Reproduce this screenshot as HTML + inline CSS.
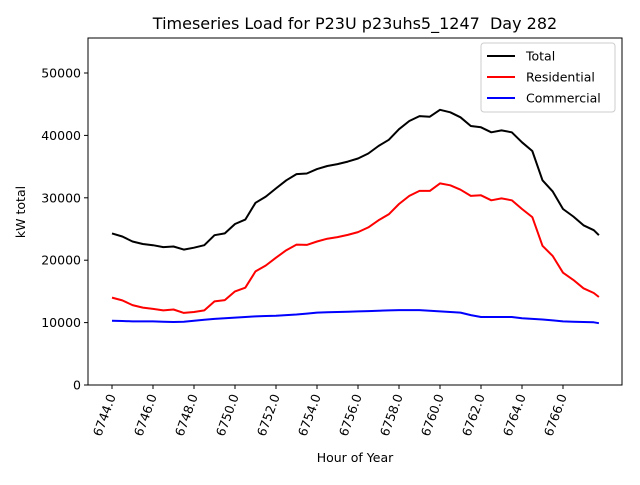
<!DOCTYPE html>
<html><head><meta charset="utf-8"><style>
body{margin:0;background:#fff;font-family:"Liberation Sans","DejaVu Sans",sans-serif}
svg text{font-family:"DejaVu Sans","Liberation Sans",sans-serif}
</style></head><body>
<svg id="chart" width="640" height="480" xmlns="http://www.w3.org/2000/svg"></svg>
<script>
const startHour = 6744;
const stepHours = 0.5;
const totalLoad = [24300,23800,23000,22600,22400,22100,22200,21700,22000,22400,24000,24300,25800,26500,29200,30200,31500,32800,33800,33900,34600,35100,35400,35800,36300,37100,38300,39300,41000,42300,43100,43000,44100,43700,42900,41500,41300,40500,40800,40500,38900,37500,32800,31000,28200,27000,25600,24800,24000];
const residentialLoad = [14000,13550,12800,12400,12200,11950,12100,11550,11700,11950,13400,13600,15000,15600,18200,19150,20400,21600,22500,22450,23000,23450,23700,24050,24500,25250,26400,27350,29000,30300,31100,31100,32300,32000,31300,30300,30400,29600,29900,29600,28200,26900,22300,20650,18000,16850,15500,14750,14100];
const commercialLoad = [10300,10250,10200,10200,10200,10150,10100,10150,10300,10450,10600,10700,10800,10900,11000,11050,11100,11200,11300,11450,11600,11650,11700,11750,11800,11850,11900,11950,12000,12000,12000,11900,11800,11700,11600,11200,10900,10900,10900,10900,10700,10600,10500,10350,10200,10150,10100,10050,9900];
const yTicks = [0,10000,20000,30000,40000,50000];
const xTicks = [6744,6746,6748,6750,6752,6754,6756,6758,6760,6762,6764,6766];

const NS="http://www.w3.org/2000/svg";
const svg=document.getElementById('chart');
const L=88,R=622,T=38,B=385;
const xs=h=>112+(h-6744)*(451/22);
const ys=v=>B-v*(312/50000);
function mk(tag,attrs,parent){const e=document.createElementNS(NS,tag);for(const k in attrs)e.setAttribute(k,attrs[k]);(parent||svg).appendChild(e);return e;}
const title=mk('text',{x:355,y:29,'text-anchor':'middle','font-size':16,style:'white-space:pre'});
title.textContent='Timeseries Load for P23U p23uhs5_1247  Day 282';


yTicks.forEach(v=>{
  const y=ys(v);
  const t=mk('line',{x1:L-4,x2:L,y1:y,y2:y,stroke:'#000'});
  
  
  const lb=mk('text',{x:L-7,y:y+4.5,'text-anchor':'end','font-size':12.5});
  lb.textContent=v;
  
  
});
xTicks.forEach(h=>{
  const x=xs(h);
  const t=mk('line',{x1:x,x2:x,y1:B,y2:B+4,stroke:'#000'});
  
  
  const lb=mk('text',{x:0,y:0,'text-anchor':'end','font-size':12.5,transform:`translate(${x+4},${B+11}) rotate(-70)`});
  lb.textContent=h.toFixed(1);
  
  
});
function series(arr,color,name){
  const pts=arr.map((v,i)=>{const h=i===arr.length-1?startHour+23.75:startHour+i*stepHours;return xs(h).toFixed(1)+','+ys(v).toFixed(1);}).join(' ');
  const p=mk('polyline',{points:pts,fill:'none',stroke:color,'stroke-width':2,'stroke-linejoin':'round'});
  
  
}
series(totalLoad,'#000','total-line');
series(residentialLoad,'#ff0000','residential-line');
series(commercialLoad,'#0000ff','commercial-line');
const fr=mk('rect',{x:L,y:T,width:R-L,height:B-T,fill:'none',stroke:'#000','stroke-width':1});


const yl=mk('text',{x:0,y:0,'text-anchor':'middle','font-size':12.5,transform:'translate(25,212) rotate(-90)'});
yl.textContent='kW total';


const xl=mk('text',{x:355,y:462,'text-anchor':'middle','font-size':12.5});
xl.textContent='Hour of Year';


const lg=mk('g',{});


mk('rect',{x:481,y:43,width:134,height:69,rx:3,fill:'#fff',stroke:'#ccc'},lg);
[['Total','#000',56],['Residential','#ff0000',77],['Commercial','#0000ff',98]].forEach(([n,c,y])=>{
  const g=mk('g',{},lg);
  
  
  mk('line',{x1:487,x2:515,y1:y,y2:y,stroke:c,'stroke-width':2},g);
  const t=mk('text',{x:526,y:y+4.5,'font-size':12.5},g);t.textContent=n;
});
</script>
</body></html>
